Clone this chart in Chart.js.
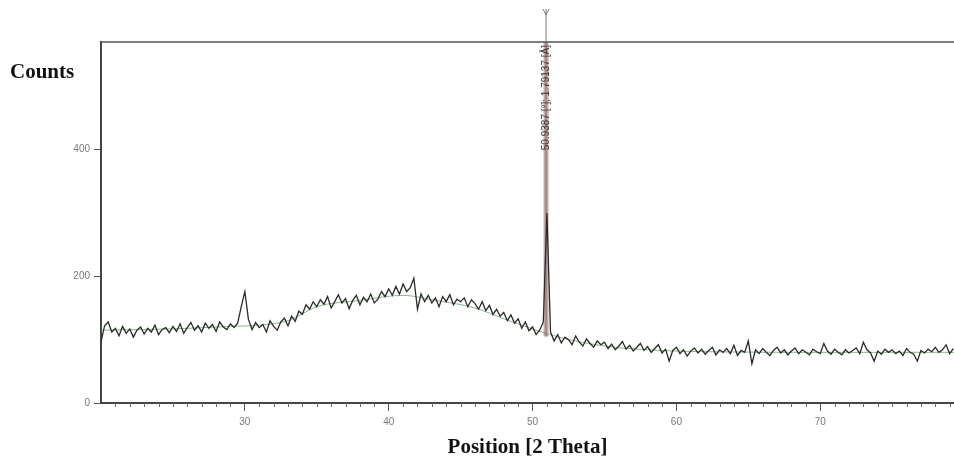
<!DOCTYPE html>
<html>
<head>
<meta charset="utf-8">
<script src="https://cdn.jsdelivr.net/npm/chart.js@4/dist/chart.umd.min.js"></script>
<style>
  html, body { margin: 0; padding: 0; background: #fff; }
  #wrap { width: 954px; height: 464px; }
</style>
</head>
<body>
<div id="wrap"><canvas id="xrd" width="954" height="464"></canvas></div>
<script>
// data

// scan grid: 2 Theta from 20 in steps of 0.25
const startTheta = 20;
const stepTheta = 0.25;
const counts = [
  // 20.00 - 24.75
  96, 122, 128, 112, 118, 106, 121, 110, 117, 104, 115, 120, 109, 118, 112, 123, 108, 116, 119, 111,
  // 25.00 - 29.75
  121, 113, 125, 110, 119, 127, 115, 122, 112, 126, 118, 124, 113, 128, 120, 116, 125, 119, 126, 152,
  // 30.00 - 34.75
  176, 132, 116, 127, 119, 124, 112, 130, 121, 115, 128, 134, 122, 137, 129, 145, 140, 155, 148, 160,
  // 35.00 - 39.75
  152, 163, 156, 168, 150, 160, 171, 158, 165, 149, 162, 170, 155, 167, 160, 172, 158, 164, 176, 168,
  // 40.00 - 44.75
  180, 170, 184, 172, 188, 176, 182, 197, 148, 172, 160, 170, 158, 166, 152, 168, 160, 171, 155, 164,
  // 45.00 - 49.75
  160, 166, 152, 163, 157, 148, 160, 146, 154, 140, 148, 137, 143, 130, 139, 126, 133, 118, 128, 114,
  // 50.00 - 54.75
  120, 108, 115, 128, 300, 112, 98, 108, 95, 104, 100, 92, 106, 96, 90, 101, 94, 88, 98, 92,
  // 55.00 - 59.75
  96, 86, 93, 84, 90, 97, 85, 91, 82, 88, 94, 83, 89, 80, 86, 92, 79, 85, 66, 83,
  // 60.00 - 64.75
  88, 78, 84, 74, 82, 87, 79, 85, 77, 83, 88, 76, 84, 80, 86, 78, 91, 75, 83, 80,
  // 65.00 - 69.75
  98, 62, 84, 78, 86, 80, 75, 83, 88, 79, 84, 76, 82, 87, 78, 84, 80, 76, 85, 81,
  // 70.00 - 74.75
  78, 94, 82, 77, 85, 80, 76, 84, 79, 83, 87, 78, 96, 84, 79, 66, 82, 77, 85, 80,
  // 75.00 - 79.25
  84, 78, 82, 75, 86, 80, 77, 66, 83, 79, 85, 81, 88, 80, 84, 92, 78, 86
];

// smooth background under the scan
const bgTheta = [20, 25, 29, 31, 33, 35, 38, 41, 43, 46, 48, 50, 52, 55, 58, 62, 70, 79.3];
const bgCounts = [115, 117, 121, 123, 130, 152, 162, 170, 163, 150, 133, 117, 103, 90, 84, 81, 80, 80];

// peak list marker
const peakTheta = 50.9387;
const peakD = 1.79137;
const peakLabel = "50.9387 [°]; " + peakD + " [Å]";
const peakBase = 105;
const peakTop = 622;

const xMin = 20, xMax = 79.3;
const yMin = 0, yMax = 570;
const xMajorTicks = [30, 40, 50, 60, 70];
const yTicks = [0, 200, 400];

const scan = counts.map((c, i) => ({ x: startTheta + i * stepTheta, y: c }));
const background = bgTheta.map((t, i) => ({ x: t, y: bgCounts[i] }));

// --------------extras: frame, minor ticks, peak label---------------------//
const extras = {
  id: "extras",
  afterDraw(chart) {
    const ctx = chart.ctx;
    const area = chart.chartArea;
    const xs = chart.scales.x;
    const ys = chart.scales.y;
    ctx.save();

    // top frame line
    ctx.strokeStyle = "#555";
    ctx.lineWidth = 1.5;
    ctx.beginPath();
    ctx.moveTo(area.left, area.top);
    ctx.lineTo(area.right, area.top);
    ctx.stroke();

    // minor ticks every degree
    ctx.strokeStyle = "#666";
    ctx.lineWidth = 1;
    for (let v = Math.ceil(xMin); v <= Math.floor(xMax); v++) {
      if (v % 10 === 0) continue;
      const px = Math.round(xs.getPixelForValue(v)) + 0.5;
      ctx.beginPath();
      ctx.moveTo(px, area.bottom);
      ctx.lineTo(px, area.bottom + 4);
      ctx.stroke();
    }

    // fork at the top of the peak marker
    const mx = xs.getPixelForValue(peakTheta);
    const my = ys.getPixelForValue(peakTop);
    ctx.strokeStyle = "#777";
    ctx.beginPath();
    ctx.moveTo(mx - 3, my);
    ctx.lineTo(mx, my + 6);
    ctx.lineTo(mx + 3, my);
    ctx.stroke();

    // peak label, rotated
    ctx.translate(mx, area.top + 3);
    ctx.rotate(-Math.PI / 2);
    ctx.font = "10px 'Liberation Sans', Arial, sans-serif";
    ctx.fillStyle = "#333";
    ctx.textAlign = "right";
    ctx.textBaseline = "middle";
    ctx.fillText(peakLabel, 0, 0);
    ctx.restore();

    // y axis caption
    ctx.save();
    ctx.font = "bold 21px 'Liberation Serif', 'Times New Roman', serif";
    ctx.fillStyle = "#111";
    ctx.textAlign = "left";
    ctx.textBaseline = "middle";
    ctx.fillText("Counts", 10, 73);
    ctx.restore();
  },
};

let xrdChart = new Chart(document.getElementById("xrd").getContext("2d"), {
  type: "line",
  data: {
    datasets: [
      {
        label: "Scan",
        data: scan,
        borderColor: "#2a2a2a",
        borderWidth: 1.3,
        pointRadius: 0,
        tension: 0,
        order: 1,
      },
      {
        label: "Background",
        data: background,
        borderColor: "rgba(90, 150, 90, 0.7)",
        borderWidth: 1,
        pointRadius: 0,
        cubicInterpolationMode: "monotone",
        order: 2,
      },
      {
        label: "Peak line",
        data: [{ x: peakTheta, y: peakBase }, { x: peakTheta, y: peakTop }],
        borderColor: "#777",
        borderWidth: 1,
        pointRadius: 0,
        clip: false,
        order: 3,
      },
      {
        label: "Peak band",
        data: [{ x: peakTheta, y: peakBase }, { x: peakTheta, y: yMax }],
        borderColor: "rgba(196, 150, 150, 0.85)",
        borderWidth: 5,
        pointRadius: 0,
        order: 4,
      },
    ],
  },
  options: {
    responsive: false,
    animation: false,
    layout: { padding: { top: 42, right: 0, bottom: 4, left: 0 } },
    plugins: {
      legend: { display: false },
      tooltip: { enabled: false },
    },
    scales: {
      x: {
        type: "linear",
        min: xMin,
        max: xMax,
        afterBuildTicks: (scale) => {
          scale.ticks = xMajorTicks.map((v) => ({ value: v }));
        },
        afterFit: (scale) => {
          scale.height = 57;
        },
        grid: { drawOnChartArea: false, drawTicks: true, tickLength: 8, color: "#555" },
        border: { display: true, color: "#444", width: 2 },
        ticks: {
          color: "#777",
          font: { size: 10, family: "'Liberation Sans', Arial, sans-serif" },
          padding: 5,
          maxRotation: 0,
        },
        title: {
          display: true,
          text: "Position [2 Theta]",
          color: "#111",
          font: { size: 21, weight: "bold", family: "'Liberation Serif', 'Times New Roman', serif" },
          padding: { top: 2, bottom: 0 },
        },
      },
      y: {
        min: yMin,
        max: yMax,
        afterBuildTicks: (scale) => {
          scale.ticks = yTicks.map((v) => ({ value: v }));
        },
        afterFit: (scale) => {
          scale.width = 101;
        },
        grid: { drawOnChartArea: false, drawTicks: true, tickLength: 7, color: "#555" },
        border: { display: true, color: "#444", width: 2 },
        ticks: {
          color: "#777",
          font: { size: 10, family: "'Liberation Sans', Arial, sans-serif" },
          padding: 4,
        },
      },
    },
  },
  plugins: [extras],
});
</script>
</body>
</html>
